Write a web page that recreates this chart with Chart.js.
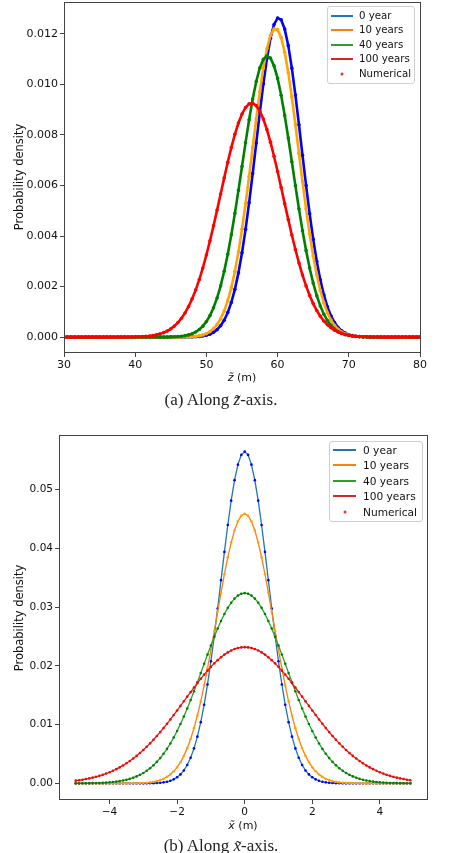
<!DOCTYPE html>
<html>
<head>
<meta charset="utf-8">
<script src="https://cdn.jsdelivr.net/npm/chart.js@4.4.0/dist/chart.umd.min.js"></script>
<style>
  html, body { margin:0; padding:0; background:#fff; }
  body { width:474px; height:853px; position:relative; overflow:hidden; font-family:"DejaVu Sans", sans-serif; color:#111; }
  .abs { position:absolute; }
  .ylab { position:absolute; transform:translate(-50%,-50%) rotate(-90deg); white-space:nowrap; font-size:11.5px; }
  .xlab { position:absolute; transform:translate(-50%,-50%); white-space:nowrap; font-size:11px; }
  .cap { position:absolute; transform:translateX(-50%); white-space:nowrap; font-family:"Liberation Serif","DejaVu Serif",serif; font-size:17px; color:#222; }
  .leg { position:absolute; border:1px solid #d0d0d0; border-radius:3px; background:rgba(255,255,255,0.85); box-sizing:border-box; }
  .leg .row { position:absolute; left:0; right:0; height:0; }
  .leg .ln { position:absolute; height:2px; top:-1px; }
  .leg .dot { position:absolute; width:3px; height:3px; border-radius:50%; transform:translate(-50%,-50%); background:#f03030; }
  .leg .tx { position:absolute; transform:translateY(-50%); white-space:nowrap; line-height:1; }
</style>
</head>
<body>
<canvas id="c1" class="abs" width="474" height="372" style="left:0;top:0;width:474px;height:372px"></canvas>
<canvas id="c2" class="abs" width="474" height="420" style="left:0;top:400px;width:474px;height:420px"></canvas>

<div class="ylab" style="left:19px;top:177px">Probability density</div>
<div class="xlab" style="left:242px;top:377px"><i>z̃</i> (m)</div>
<div class="cap" style="left:221px;top:390px">(a) Along <i>z̃</i>-axis.</div>

<div class="ylab" style="left:19px;top:618px">Probability density</div>
<div class="xlab" style="left:243px;top:825px"><i>x̃</i> (m)</div>
<div class="cap" style="left:221px;top:836px">(b) Along <i>x̃</i>-axis.</div>

<div id="leg1" class="leg" style="left:327px;top:6px;width:88px;height:78px;font-size:10.2px"></div>
<div id="leg2" class="leg" style="left:329px;top:441px;width:94px;height:81px;font-size:10.6px"></div>

<script>
// ---------------- DATA ----------------
const seriesNames = ["0 year", "10 years", "40 years", "100 years"];
const numericalName = "Numerical";

// (a) along z~ : sample positions (m)
const zTop = [
  30,30.5,31,31.5,32,32.5,33,33.5,34,34.5,
  35,35.5,36,36.5,37,37.5,38,38.5,39,39.5,
  40,40.5,41,41.5,42,42.5,43,43.5,44,44.5,
  45,45.5,46,46.5,47,47.5,48,48.5,49,49.5,
  50,50.5,51,51.5,52,52.5,53,53.5,54,54.5,
  55,55.5,56,56.5,57,57.5,58,58.5,59,59.5,
  60,60.5,61,61.5,62,62.5,63,63.5,64,64.5,
  65,65.5,66,66.5,67,67.5,68,68.5,69,69.5,
  70,70.5,71,71.5,72,72.5,73,73.5,74,74.5,
  75,75.5,76,76.5,77,77.5,78,78.5,79,79.5,
  80];
const zYear0 = [
  0,0,0,0,0,0,0,0,0,0,
  0,0,0,0,0,0,0,0,0,0,
  0,0,0,0,0,0,0,0,0,0,
  0,0,0,0,0,0.000004,0.000008,0.000014,0.000025,0.000042,
  0.000071,0.000117,0.000188,0.000294,0.000449,0.000668,0.000968,0.001370,0.001889,0.002541,
  0.003334,0.004264,0.005320,0.006471,0.007677,0.008882,0.010020,0.011024,0.011827,0.012374,
  0.012626,0.012562,0.012189,0.011534,0.010643,0.009577,0.008404,0.007192,0.006002,0.004884,
  0.003876,0.003000,0.002264,0.001666,0.001196,0.000837,0.000572,0.000380,0.000247,0.000156,
  0.000096,0.000058,0.000034,0.000020,0.000011,0.000006,0,0,0,0,
  0,0,0,0,0,0,0,0,0,0,
  0];
const zYear10 = [
  0,0,0,0,0,0,0,0,0,0,
  0,0,0,0,0,0,0,0,0,0,
  0,0,0,0,0,0,0,0,0,0,
  0,0,0,0,0.000006,0.000010,0.000018,0.000031,0.000052,0.000086,
  0.000138,0.000217,0.000333,0.000497,0.000726,0.001035,0.001441,0.001959,0.002601,0.003372,
  0.004268,0.005276,0.006367,0.007505,0.008636,0.009704,0.010649,0.011410,0.011938,0.012197,
  0.012168,0.011853,0.011275,0.010473,0.009499,0.008412,0.007275,0.006144,0.005066,0.004079,
  0.003208,0.002462,0.001846,0.001352,0.000966,0.000675,0.000460,0.000306,0.000199,0.000126,
  0.000078,0.000047,0.000028,0.000016,0.000009,0.000005,0,0,0,0,
  0,0,0,0,0,0,0,0,0,0,
  0];
const zYear40 = [
  0,0,0,0,0,0,0,0,0,0,
  0,0,0,0,0,0,0,0,0,0,
  0,0,0,0,0,0,0,0,0,0,
  0.000008,0.000013,0.000022,0.000035,0.000056,0.000087,0.000134,0.000202,0.000298,0.000432,
  0.000612,0.000850,0.001159,0.001549,0.002028,0.002604,0.003278,0.004046,0.004895,0.005805,
  0.006750,0.007695,0.008599,0.009420,0.010118,0.010654,0.010997,0.011129,0.011041,0.010738,
  0.010239,0.009571,0.008771,0.007880,0.006941,0.005993,0.005073,0.004210,0.003425,0.002731,
  0.002136,0.001637,0.001230,0.000906,0.000655,0.000463,0.000322,0.000219,0.000146,0.000095,
  0.000061,0.000038,0.000024,0.000014,0.000008,0.000005,0,0,0,0,
  0,0,0,0,0,0,0,0,0,0,
  0];
const zYear100 = [
  0,0,0,0,0,0,0,0,0,0,
  0,0,0,0,0,0,0,0.000002,0.000004,0.000006,
  0.000009,0.000014,0.000020,0.000030,0.000044,0.000064,0.000090,0.000127,0.000176,0.000241,
  0.000326,0.000435,0.000573,0.000745,0.000956,0.001211,0.001514,0.001868,0.002276,0.002737,
  0.003249,0.003807,0.004403,0.005026,0.005665,0.006301,0.006919,0.007499,0.008023,0.008472,
  0.008832,0.009088,0.009231,0.009255,0.009159,0.008947,0.008628,0.008212,0.007716,0.007156,
  0.006552,0.005921,0.005281,0.004650,0.004041,0.003467,0.002936,0.002454,0.002025,0.001649,
  0.001326,0.001052,0.000825,0.000638,0.000487,0.000367,0.000273,0.000200,0.000145,0.000104,
  0.000073,0.000051,0.000035,0.000024,0.000016,0.000011,0.000007,0.000005,0.000003,0,
  0,0,0,0,0,0,0,0,0,0,
  0];
const zTicksX = [30, 40, 50, 60, 70, 80];
const zTicksY = [0, 0.002, 0.004, 0.006, 0.008, 0.010, 0.012];

// (b) along x~ : sample positions (m)
const xBot = [
  -5,-4.9,-4.8,-4.7,-4.6,-4.5,-4.4,-4.3,-4.2,-4.1,
  -4,-3.9,-3.8,-3.7,-3.6,-3.5,-3.4,-3.3,-3.2,-3.1,
  -3,-2.9,-2.8,-2.7,-2.6,-2.5,-2.4,-2.3,-2.2,-2.1,
  -2,-1.9,-1.8,-1.7,-1.6,-1.5,-1.4,-1.3,-1.2,-1.1,
  -1,-0.9,-0.8,-0.7,-0.6,-0.5,-0.4,-0.3,-0.2,-0.1,
  0,0.1,0.2,0.3,0.4,0.5,0.6,0.7,0.8,0.9,
  1,1.1,1.2,1.3,1.4,1.5,1.6,1.7,1.8,1.9,
  2,2.1,2.2,2.3,2.4,2.5,2.6,2.7,2.8,2.9,
  3,3.1,3.2,3.3,3.4,3.5,3.6,3.7,3.8,3.9,
  4,4.1,4.2,4.3,4.4,4.5,4.6,4.7,4.8,4.9];
const xYear0 = [
  0,0,0,0,0,0,0,0,0,0,
  0,0,0,0,0,0,0,0,0,0,
  0,0.00001,0.00002,0.00004,0.00007,0.00011,0.00018,0.00028,0.00045,0.00069,
  0.00104,0.00153,0.00221,0.00314,0.00437,0.00596,0.00796,0.01043,0.01339,0.01685,
  0.02079,0.02513,0.02979,0.03461,0.03942,0.04400,0.04815,0.05164,0.05428,0.05594,
  0.05650,0.05594,0.05428,0.05164,0.04815,0.04400,0.03942,0.03461,0.02979,0.02513,
  0.02079,0.01685,0.01339,0.01043,0.00796,0.00596,0.00437,0.00314,0.00221,0.00153,
  0.00104,0.00069,0.00045,0.00028,0.00018,0.00011,0.00007,0.00004,0.00002,0.00001,
  0,0,0,0,0,0,0,0,0,0,
  0,0,0,0,0,0,0,0,0,0];
const xYear10 = [
  0,0,0,0,0,0,0,0,0,0,
  0,0,0,0,0,0,0.00001,0.00002,0.00003,0.00005,
  0.00008,0.00012,0.00018,0.00027,0.00039,0.00056,0.00079,0.00111,0.00152,0.00206,
  0.00274,0.00361,0.00469,0.00600,0.00757,0.00941,0.01154,0.01396,0.01665,0.01958,
  0.02270,0.02595,0.02925,0.03250,0.03562,0.03849,0.04101,0.04308,0.04462,0.04558,
  0.04590,0.04558,0.04462,0.04308,0.04101,0.03849,0.03562,0.03250,0.02925,0.02595,
  0.02270,0.01958,0.01665,0.01396,0.01154,0.00941,0.00757,0.00600,0.00469,0.00361,
  0.00274,0.00206,0.00152,0.00111,0.00079,0.00056,0.00039,0.00027,0.00018,0.00012,
  0.00008,0.00005,0.00003,0.00002,0.00001,0,0,0,0,0,
  0,0,0,0,0,0,0,0,0,0];
const xYear40 = [
  0.00001,0.00001,0.00002,0.00003,0.00004,0.00005,0.00006,0.00008,0.00011,0.00014,
  0.00019,0.00024,0.00031,0.00039,0.00050,0.00062,0.00078,0.00097,0.00119,0.00146,
  0.00178,0.00215,0.00258,0.00309,0.00366,0.00431,0.00505,0.00588,0.00680,0.00781,
  0.00892,0.01011,0.01139,0.01276,0.01419,0.01568,0.01722,0.01878,0.02036,0.02193,
  0.02347,0.02495,0.02636,0.02766,0.02885,0.02989,0.03077,0.03147,0.03198,0.03230,
  0.03240,0.03230,0.03198,0.03147,0.03077,0.02989,0.02885,0.02766,0.02636,0.02495,
  0.02347,0.02193,0.02036,0.01878,0.01722,0.01568,0.01419,0.01276,0.01139,0.01011,
  0.00892,0.00781,0.00680,0.00588,0.00505,0.00431,0.00366,0.00309,0.00258,0.00215,
  0.00178,0.00146,0.00119,0.00097,0.00078,0.00062,0.00050,0.00039,0.00031,0.00024,
  0.00019,0.00014,0.00011,0.00008,0.00006,0.00005,0.00004,0.00003,0.00002,0.00001];
const xYear100 = [
  0.00047,0.00054,0.00063,0.00074,0.00085,0.00098,0.00113,0.00129,0.00147,0.00168,
  0.00190,0.00215,0.00243,0.00273,0.00306,0.00342,0.00381,0.00423,0.00468,0.00517,
  0.00569,0.00623,0.00682,0.00743,0.00807,0.00874,0.00943,0.01015,0.01089,0.01165,
  0.01242,0.01320,0.01398,0.01477,0.01555,0.01632,0.01708,0.01782,0.01853,0.01920,
  0.01984,0.02044,0.02099,0.02149,0.02193,0.02231,0.02263,0.02288,0.02306,0.02316,
  0.02320,0.02316,0.02306,0.02288,0.02263,0.02231,0.02193,0.02149,0.02099,0.02044,
  0.01984,0.01920,0.01853,0.01782,0.01708,0.01632,0.01555,0.01477,0.01398,0.01320,
  0.01242,0.01165,0.01089,0.01015,0.00943,0.00874,0.00807,0.00743,0.00682,0.00623,
  0.00569,0.00517,0.00468,0.00423,0.00381,0.00342,0.00306,0.00273,0.00243,0.00215,
  0.00190,0.00168,0.00147,0.00129,0.00113,0.00098,0.00085,0.00074,0.00063,0.00054];
const xTicksX = [-4, -2, 0, 2, 4];
const xTicksY = [0, 0.01, 0.02, 0.03, 0.04, 0.05];

// ---------------- STYLE ----------------
const lineColors = ["#1f77b4", "#ff7f0e", "#2ca02c", "#d62728"];
const dotColors  = ["#0000ff", "#ffa500", "#008000", "#ff0000"];

const framePlugin = {
  id: "frame",
  afterDatasetsDraw(chart) {
    const { ctx, chartArea: a } = chart;
    ctx.save();
    ctx.strokeStyle = "#444";
    ctx.lineWidth = 1;
    ctx.strokeRect(Math.round(a.left) + 0.5, Math.round(a.top) + 0.5,
                   Math.round(a.right - a.left), Math.round(a.bottom - a.top) - 1);
    ctx.restore();
  }
};

function buildDatasets(xs, ys, lineW, dotR, topLineColor) {
  const out = [];
  for (let s = ys.length - 1; s >= 0; s--) {
    const pts = xs.map((x, i) => ({ x: x, y: ys[s][i] }));
    out.push({ label: numericalName + s, data: pts, showLine: false,
      pointRadius: dotR, pointBorderWidth: 0, pointBackgroundColor: dotColors[s], pointHoverRadius: 0 });
    out.push({ label: seriesNames[s], data: pts, showLine: true,
      borderColor: topLineColor ? dotColors[s] : lineColors[s],
      borderWidth: lineW, pointRadius: 0, tension: 0, fill: false });
  }
  return out;
}

function makeChart(id, xs, ys, o) {
  return new Chart(document.getElementById(id), {
    type: "scatter",
    data: { datasets: buildDatasets(xs, ys, o.lineW, o.dotR, o.dotLine) },
    options: {
      responsive: false, animation: false, devicePixelRatio: 1,
      layout: { padding: o.pad },
      plugins: { legend: { display: false }, tooltip: { enabled: false } },
      events: [],
      scales: {
        x: {
          type: "linear", min: o.xmin, max: o.xmax,
          afterFit: s => { s.height = o.xh; s.paddingLeft = 0; s.paddingRight = 0; },
          afterBuildTicks: s => { s.ticks = o.xt.map(v => ({ value: v })); },
          grid: { display: true, drawOnChartArea: false, drawTicks: true, tickLength: 4, color: "#444", lineWidth: 1 },
          border: { display: false },
          ticks: { autoSkip: false, maxRotation: 0, padding: 2, color: "#111",
            font: { family: "DejaVu Sans", size: o.fs },
            callback: v => (v < 0 ? "\u2212" + Math.abs(v) : String(v)) }
        },
        y: {
          type: "linear", min: o.ymin, max: o.ymax,
          afterFit: s => { s.width = o.yw; s.paddingTop = 0; s.paddingBottom = 0; },
          afterBuildTicks: s => { s.ticks = o.yt.map(v => ({ value: v })); },
          grid: { display: true, drawOnChartArea: false, drawTicks: true, tickLength: 4, color: "#444", lineWidth: 1 },
          border: { display: false },
          ticks: { autoSkip: false, padding: 2, color: "#111",
            font: { family: "DejaVu Sans", size: o.fs },
            callback: v => Number(v).toFixed(o.dec) }
        }
      }
    },
    plugins: [framePlugin]
  });
}

makeChart("c1", zTop, [zYear0, zYear10, zYear40, zYear100], {
  xmin: 30, xmax: 80, ymin: -0.00063, ymax: 0.01327,
  xt: zTicksX, yt: zTicksY, dec: 3, fs: 11,
  pad: { left: 0, right: 54, top: 1, bottom: 0 }, yw: 64, xh: 19,
  lineW: 2.6, dotR: 1.8, dotLine: true
});
makeChart("c2", xBot, [xYear0, xYear10, xYear40, xYear100], {
  xmin: -5.495, xmax: 5.395, ymin: -0.002825, ymax: 0.059325,
  xt: xTicksX, yt: xTicksY, dec: 2, fs: 10.5,
  pad: { left: 0, right: 47, top: 35, bottom: 0 }, yw: 59, xh: 20,
  lineW: 1.3, dotR: 1.3, dotLine: false
});

// ---------------- LEGENDS ----------------
function buildLegend(id, rows, lnLeft, lnW, txLeft) {
  const el = document.getElementById(id);
  const labels = seriesNames.concat([numericalName]);
  labels.forEach((lab, i) => {
    const r = document.createElement("div");
    r.className = "row";
    r.style.top = rows[i] + "px";
    if (i < 4) {
      const ln = document.createElement("div");
      ln.className = "ln";
      ln.style.left = lnLeft + "px"; ln.style.width = lnW + "px";
      ln.style.background = lineColors[i];
      r.appendChild(ln);
    } else {
      const d = document.createElement("div");
      d.className = "dot";
      d.style.left = (lnLeft + lnW / 2) + "px";
      r.appendChild(d);
    }
    const t = document.createElement("div");
    t.className = "tx"; t.style.left = txLeft + "px"; t.textContent = lab;
    r.appendChild(t);
    el.appendChild(r);
  });
}
buildLegend("leg1", [9, 23, 38, 52, 67], 3, 22, 31);
buildLegend("leg2", [8, 23, 39, 54, 70], 3, 23, 33);
</script>
</body>
</html>
